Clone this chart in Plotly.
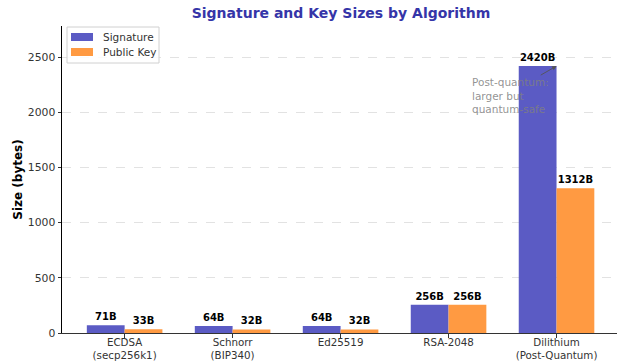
import plotly.graph_objects as go

categories = ["ECDSA<br>(secp256k1)", "Schnorr<br>(BIP340)", "Ed25519", "RSA-2048", "Dilithium<br>(Post-Quantum)"]
signature = [71, 64, 64, 256, 2420]
public_key = [33, 32, 32, 256, 1312]
y_ticks = [0, 500, 1000, 1500, 2000, 2500]
series_names = ["Signature", "Public Key"]
series_colors = ["#5b5bc4", "#ff9a42"]

FONT = "DejaVu Sans"
xs = list(range(len(categories)))

# plot area in pixels (for legend drawn in paper coords)
L, R, T, B = 62, 2, 26, 31
W, H = 619, 364
PW, PH = W - L - R, H - T - B


def px2paper(px, py):
    return (px - L) / PW, (H - B - py) / PH


fig = go.Figure()
for name, vals, col in zip(series_names, [signature, public_key], series_colors):
    fig.add_trace(go.Bar(
        x=xs, y=vals, name=name,
        marker=dict(color=col, line=dict(width=0)),
        text=[f"<b>{v}B</b>" for v in vals], textposition="outside",
        textfont=dict(family=FONT, size=10, color="black"), cliponaxis=False,
        showlegend=False,
    ))

fig.update_layout(
    width=W, height=H,
    margin=dict(l=L, r=R, t=T, b=B),
    paper_bgcolor="white", plot_bgcolor="white",
    font=dict(family=FONT, size=10.5, color="#333333"),
    barmode="group", bargap=0.3, bargroupgap=0,
    title=dict(text="<b>Signature and Key Sizes by Algorithm</b>", x=341 / W, xanchor="center",
               y=1 - 13 / H, yanchor="middle", font=dict(family=FONT, size=14, color="#3535a8")),
    showlegend=False,
)
fig.update_xaxes(
    tickvals=xs, ticktext=categories, range=[-0.58, 4.56], automargin=False,
    showline=True, linecolor="#333333", linewidth=1, mirror=False,
    ticks="outside", ticklen=3.5, tickcolor="#333333", showgrid=False, zeroline=False,
    tickfont=dict(family=FONT, size=10.3, color="#333333"),
    ticklabelstandoff=-4,
)
fig.update_yaxes(
    tickvals=y_ticks, range=[0, 2783], automargin=False,
    showline=True, linecolor="black", linewidth=1,
    ticks="outside", ticklen=3.5, tickcolor="#333333",
    showgrid=True, gridcolor="#e2e2e2", griddash="dash", gridwidth=1, zeroline=False,
    tickfont=dict(family=FONT, size=10.8, color="#333333"),
    title=dict(text="<b>Size (bytes)</b>", font=dict(family=FONT, size=12, color="black"), standoff=2),
)

# custom legend (matplotlib-like)
x0, y0 = px2paper(67, 27)
x1, y1 = px2paper(159, 63)
fig.add_shape(type="rect", xref="paper", yref="paper", x0=x0, y0=y0, x1=x1, y1=y1,
              line=dict(color="#d0d0d0", width=1), fillcolor="rgba(255,255,255,0.85)", layer="above")
for i, (name, col) in enumerate(zip(series_names, series_colors)):
    cy = 37 + 15 * i
    sx0, sy0 = px2paper(71, cy - 4)
    sx1, sy1 = px2paper(93, cy + 4)
    fig.add_shape(type="rect", xref="paper", yref="paper", x0=sx0, y0=sy0, x1=sx1, y1=sy1,
                  line=dict(width=0), fillcolor=col, layer="above")
    tx, ty = px2paper(101, cy)
    fig.add_annotation(x=tx, y=ty, xref="paper", yref="paper", text=name, showarrow=False,
                       xanchor="left", yanchor="middle",
                       font=dict(family=FONT, size=10.5, color="#333333"))

# annotation arrow and text
fig.add_annotation(x=4, y=2420, ax=3.84, ay=2330, xref="x", yref="y", axref="x", ayref="y",
                   text="", showarrow=True, arrowhead=2, arrowsize=1, arrowwidth=0.9,
                   arrowcolor="#555555")
fig.add_annotation(x=3.2, y=2156, xref="x", yref="y", text="Post-quantum:<br>larger but<br>quantum-safe",
                   showarrow=False, xanchor="left", yanchor="middle", align="left",
                   font=dict(family=FONT, size=10.5, color="rgba(128,128,128,0.85)"))

fig.write_html("out.html")
